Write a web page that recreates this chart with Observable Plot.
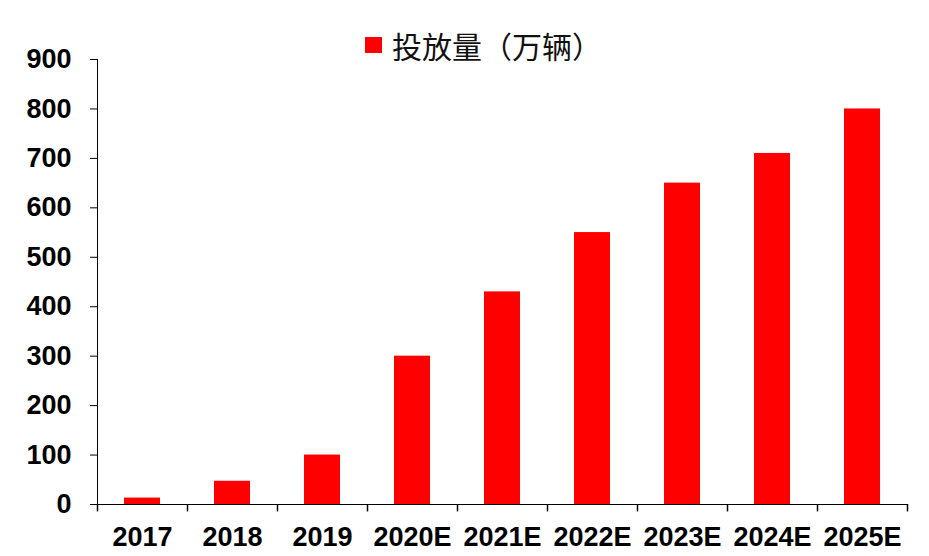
<!DOCTYPE html>
<html>
<head>
<meta charset="utf-8">
<script src="https://cdn.jsdelivr.net/npm/d3@7"></script>
<script src="https://cdn.jsdelivr.net/npm/@observablehq/plot@0.6"></script>
<style>
  html, body { margin: 0; padding: 0; background: #fff; }
  #wrap { position: relative; width: 929px; height: 556px; }
  #legend { position: absolute; left: 365px; top: 28px; display: flex; align-items: center;
    font-family: "Noto Sans CJK SC", "Noto Sans", sans-serif; font-size: 30px; line-height: 34px; color: #111; }
  #legend .sw { width: 17px; height: 16px; background: #ff0000; margin-right: 10px; }
</style>
</head>
<body>
<div id="wrap">
  <div id="legend"><span class="sw"></span><span id="legend-label"></span></div>
</div>
<script>
const categories = ["2017", "2018", "2019", "2020E", "2021E", "2022E", "2023E", "2024E", "2025E"];
const values = [13, 47, 100, 300, 430, 550, 650, 710, 800];
const yTicks = [0, 100, 200, 300, 400, 500, 600, 700, 800, 900];
const seriesName = "投放量（万辆）";

const data = categories.map((c, i) => ({category: c, value: values[i]}));
document.getElementById("legend-label").textContent = seriesName;

const W = 929, H = 556;
const mL = 97, mR = 22, mT = 59, mB = 52;
const step = (W - mL - mR) / categories.length;

const chart = Plot.plot({
  width: W,
  height: H,
  marginLeft: mL,
  marginRight: mR,
  marginTop: mT,
  marginBottom: mB,
  style: {fontFamily: "'Liberation Sans', Arial, sans-serif", fontSize: "27px", fontWeight: "bold", color: "#000", background: "#fff"},
  x: {domain: categories, paddingInner: 0.6, paddingOuter: 0.3, label: null, tickSize: 0, tickPadding: 22, line: true},
  y: {domain: [0, 900], ticks: yTicks, tickFormat: d => String(d), label: null, tickSize: 7, tickPadding: 19, line: true},
  marks: [
    Plot.barY(data, {x: "category", y: "value", fill: "#ff0000"}),
    Plot.ruleX(categories, {x: d => d, y1: 0, y2: -15, dx: -step / 2, stroke: "#000", strokeWidth: 1.5, clip: false}),
    Plot.ruleX(categories.slice(-1), {x: d => d, y1: 0, y2: -15, dx: step / 2, stroke: "#000", strokeWidth: 1.5, clip: false})
  ]
});
chart.style.position = "absolute";
chart.style.left = "0";
chart.style.top = "0";
chart.querySelectorAll("[aria-label$='axis'] path, [aria-label$='axis'] line").forEach(e => { e.setAttribute("stroke-width", "1.5"); });
document.getElementById("wrap").prepend(chart);
</script>
</body>
</html>
